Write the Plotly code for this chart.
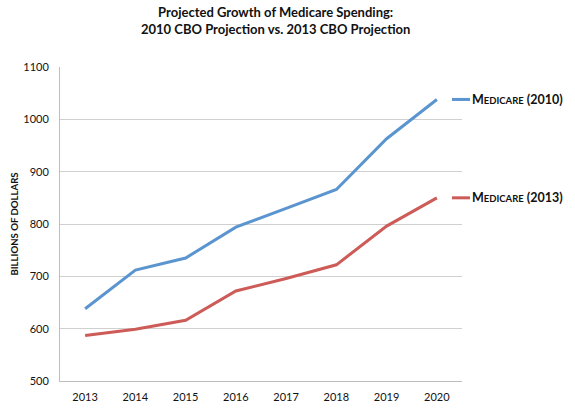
import plotly.graph_objects as go

# Дані
years = ['2013', '2014', '2015', '2016', '2017', '2018', '2019', '2020']
medicare_2010 = [638, 712, 735, 794, 830, 866, 963, 1038]
medicare_2013 = [587, 599, 616, 672, 696, 722, 796, 850]
y_ticks = [500, 600, 700, 800, 900, 1000, 1100]

series = [
    ('<b>M<span style="font-size:9.5px">EDICARE</span> (2010)</b>', medicare_2010, '#5b95cf'),
    ('<b>M<span style="font-size:9.5px">EDICARE</span> (2013)</b>', medicare_2013, '#cd5b57'),
]

fig = go.Figure()

for label, values, color in series:
    fig.add_trace(go.Scatter(
        x=years, y=values, mode='lines',
        line=dict(color=color, width=3),
        showlegend=False, hoverinfo='skip'
    ))
    # Підпис серії праворуч від останньої точки
    fig.add_shape(type='line', xref='paper', yref='y',
                  x0=0.975, x1=1.02, y0=values[-1], y1=values[-1],
                  line=dict(color=color, width=3))
    fig.add_annotation(text=label, xref='paper', yref='y',
                       x=1.021, y=values[-1], xanchor='left', yanchor='middle',
                       showarrow=False,
                       font=dict(family='Lato', size=12.5, color='#111111'))

# Заголовок у два рядки
fig.add_annotation(
    text='<b>Projected Growth of Medicare Spending:<br>2010 CBO Projection vs. 2013 CBO Projection</b>',
    xref='paper', yref='paper', x=0.537, y=1.147, xanchor='center', yanchor='middle',
    showarrow=False, font=dict(family='Lato', size=13, color='#111111')
)

fig.update_layout(
    width=575, height=408,
    margin=dict(l=60, r=113, t=67, b=27),
    paper_bgcolor='white', plot_bgcolor='white',
    font=dict(family='Lato', color='#111111'),
)

fig.update_xaxes(
    type='category', range=[-0.5, 7.5], automargin=False,
    showgrid=False, showline=True, linecolor='#bdbdbd', linewidth=1,
    ticks='', tickfont=dict(size=11), ticklabelstandoff=6
)
fig.update_yaxes(
    range=[500, 1100], tickvals=y_ticks, automargin=False,
    showgrid=True, gridcolor='#d0d0d0', gridwidth=1,
    showline=True, linecolor='#bdbdbd', linewidth=1,
    zeroline=False, ticks='', tickfont=dict(size=11), ticklabelstandoff=8,
    title=dict(text='<b>BILLIONS OF DOLLARS</b>', font=dict(size=9.6), standoff=2)
)

# прибрати стандартний відступ сторінки, щоб фігура займала все вікно
fig.write_html('out.html', config={'displayModeBar': False},
               post_script="document.body.style.margin='0';")
